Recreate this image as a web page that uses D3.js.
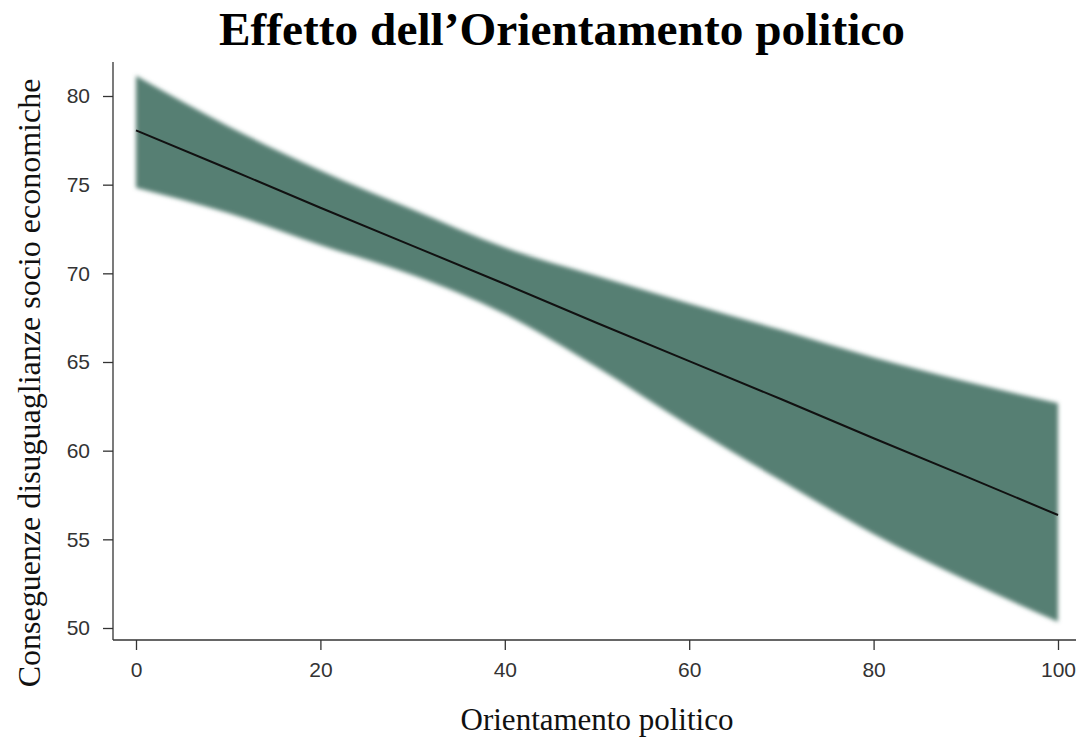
<!DOCTYPE html>
<html><head><meta charset="utf-8">
<script src="https://cdn.jsdelivr.net/npm/d3@7"></script>
<style>body{margin:0;background:#fff}svg{display:block}</style>
</head><body>
<svg id="c" width="1079" height="744"></svg>
<script>
const xValues = [0,10,20,30,40,50,60,70,80,90,100];
const fitValues = [78.06,75.9,73.7,71.55,69.4,67.2,65.05,62.9,60.7,58.55,56.37];
const upperValues = [81.14,78.3,75.8,73.6,71.45,69.85,68.3,66.8,65.25,63.9,62.67];
const lowerValues = [74.83,73.4,71.6,69.9,67.7,64.7,61.4,58.3,55.3,52.7,50.35];
const xTicks = [0,20,40,60,80,100];
const yTicks = [50,55,60,65,70,75,80];
const title = "Effetto dell\u2019Orientamento politico";
const xLabel = "Orientamento politico";
const yLabel = "Conseguenze disuguaglianze socio economiche";

const svg = d3.select("#c");
const x = d3.scaleLinear().domain([0,100]).range([136,1058]);
const y = d3.scaleLinear().domain([50,80]).range([628,96]);

const defs = svg.append("defs");
defs.append("filter").attr("id","blur").attr("x","-5%").attr("y","-5%").attr("width","110%").attr("height","110%")
  .append("feGaussianBlur").attr("stdDeviation",2);

const rows = xValues.map((v,i)=>({x:v, fit:fitValues[i], lo:lowerValues[i], hi:upperValues[i]}));

svg.append("path").datum(rows)
  .attr("d", d3.area().curve(d3.curveMonotoneX).x(d=>x(d.x)).y0(d=>y(d.lo)).y1(d=>y(d.hi)))
  .attr("fill","#567f73").attr("filter","url(#blur)");

svg.append("path").datum(rows)
  .attr("d", d3.line().x(d=>x(d.x)).y(d=>y(d.fit)))
  .attr("fill","none").attr("stroke","#111").attr("stroke-width",2);

// axes
const axisColor = "#333";
svg.append("line").attr("x1",113).attr("x2",113).attr("y1",62).attr("y2",640).attr("stroke",axisColor).attr("stroke-width",1.3);
svg.append("line").attr("x1",113).attr("x2",1076).attr("y1",640).attr("y2",640).attr("stroke",axisColor).attr("stroke-width",1.3);

const ya = svg.append("g").attr("transform","translate(113,0)")
  .call(d3.axisLeft(y).tickValues(yTicks).tickSize(10).tickPadding(13).tickSizeOuter(0));
ya.select(".domain").remove();
ya.selectAll("line").attr("stroke",axisColor).attr("stroke-width",1.3);
ya.selectAll("text").attr("font-family","'Liberation Sans', Arial, sans-serif").attr("font-size",21).attr("fill","#333");

const xa = svg.append("g").attr("transform","translate(0,640)")
  .call(d3.axisBottom(x).tickValues(xTicks).tickSize(10).tickPadding(12).tickSizeOuter(0));
xa.select(".domain").remove();
xa.selectAll("line").attr("stroke",axisColor).attr("stroke-width",1.3);
xa.selectAll("text").attr("font-family","'Liberation Sans', Arial, sans-serif").attr("font-size",21).attr("fill","#333");

svg.append("text").attr("x",562).attr("y",45).attr("text-anchor","middle")
  .attr("font-family","'Liberation Serif', 'Times New Roman', serif").attr("font-weight","bold")
  .attr("font-size",46).attr("textLength",686).attr("lengthAdjust","spacingAndGlyphs").attr("fill","#000").text(title);

svg.append("text").attr("x",597).attr("y",730).attr("text-anchor","middle")
  .attr("font-family","'Liberation Serif', 'Times New Roman', serif")
  .attr("font-size",31).attr("fill","#111").text(xLabel);

svg.append("text").attr("transform","translate(40,383) rotate(-90)").attr("text-anchor","middle")
  .attr("font-family","'Liberation Serif', 'Times New Roman', serif")
  .attr("font-size",32).attr("fill","#111").text(yLabel);
</script>
</body></html>
